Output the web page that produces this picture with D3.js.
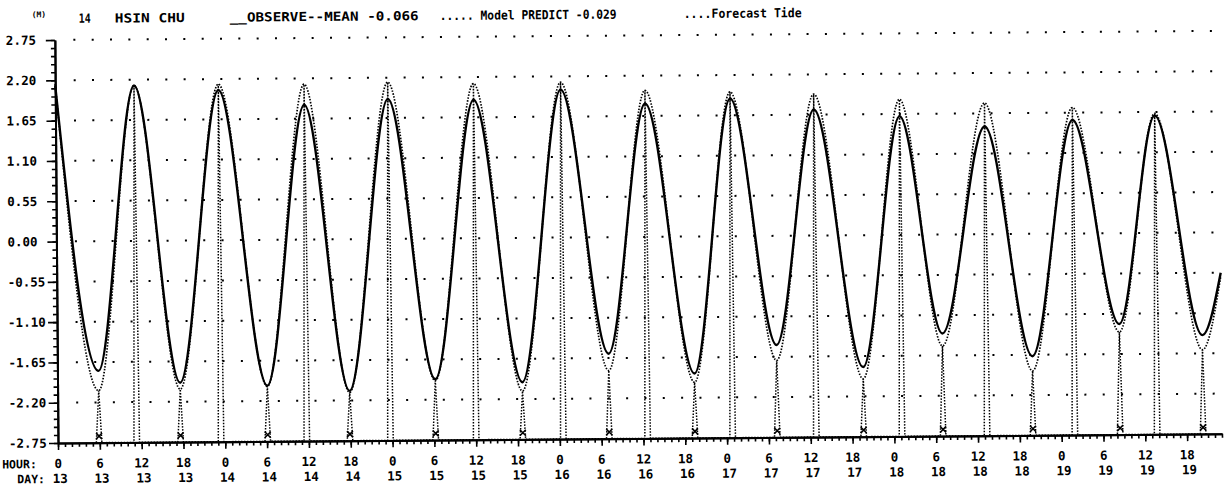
<!DOCTYPE html>
<html>
<head>
<meta charset="utf-8">
<script src="https://cdn.jsdelivr.net/npm/d3@7"></script>
<style>
body { margin: 0; background: #fff; }
svg { display: block; }
text { font-family: "DejaVu Sans Mono", monospace; font-weight: bold; fill: #000; }
</style>
</head>
<body>
<script>
// times (hours from day 13, 00h) of the start, every high / low water, and the end
var extremeHours = [0, 5.9, 11.3, 17.6, 23.4, 30.1, 35.7, 41.9, 47.7, 54.2, 60.0, 66.7, 72.5,
  79.1, 84.6, 91.4, 96.8, 103.2, 108.8, 115.6, 121.1, 127.0, 133.3, 139.9, 145.9, 152.4, 157.7, 164.3, 167];

// observed minus mean (solid)
var observed = [2.13, -1.77, 2.12, -1.94, 2.05, -1.99, 1.84, -2.07, 1.91, -1.92, 1.89, -1.97, 2.02,
  -1.59, 1.82, -1.87, 1.88, -1.49, 1.72, -1.80, 1.62, -1.35, 1.47, -1.67, 1.55, -1.24, 1.60, -1.40, -0.55];

// model predict (dotted)
var predicted = [2.15, -2.04, 2.12, -2.03, 2.13, -2.00, 2.12, -2.09, 2.14, -1.94, 2.11, -2.09, 2.12,
  -1.82, 2.00, -1.99, 1.97, -1.70, 1.93, -1.96, 1.85, -1.52, 1.79, -1.87, 1.72, -1.35, 1.63, -1.60, -0.60];

// forecast tide extremes (drawn as spikes from the bottom)
var forecastHours = extremeHours.slice(1, -1);
var forecastHeights = predicted.slice(1, -1);

var yTicks = [2.75, 2.20, 1.65, 1.10, 0.55, 0.00, -0.55, -1.10, -1.65, -2.20, -2.75];
var yLabels = ["2.75", "2.20", "1.65", "1.10", "0.55", "0.00", "-0.55", "-1.10", "-1.65", "-2.20", "-2.75"];

var tickHours = [0, 6, 12, 18, 24, 30, 36, 42, 48, 54, 60, 66, 72, 78, 84, 90, 96, 102, 108, 114,
  120, 126, 132, 138, 144, 150, 156, 162];
var hourLabels = ["0", "6", "12", "18", "0", "6", "12", "18", "0", "6", "12", "18", "0", "6",
  "12", "18", "0", "6", "12", "18", "0", "6", "12", "18", "0", "6", "12", "18"];
var dayLabels = ["13", "13", "13", "13", "14", "14", "14", "14", "15", "15", "15", "15", "16", "16",
  "16", "16", "17", "17", "17", "17", "18", "18", "18", "18", "19", "19", "19", "19"];

var width = 1226, height = 496;

var svg = d3.select("body").append("svg")
  .attr("width", width)
  .attr("height", height);

// the scanned plot sits slightly tilted
var g = svg.append("g").attr("transform", "rotate(-0.45,58,443)");

var x = d3.scaleLinear().domain([0, 167]).range([58, 1222]);
var y = d3.scaleLinear().domain([-2.75, 2.75]).range([443, 40]);

// dotted grid rows
var dotHours = d3.range(2.8, 166.5, 2.63);
yTicks.filter(function(v) { return v > -2.7; }).forEach(function(v) {
  g.append("g").selectAll("rect")
    .data(dotHours)
    .enter()
    .append("rect")
    .attr("x", function(d) { return x(d) - 1; })
    .attr("y", y(v) - 1)
    .attr("width", 2)
    .attr("height", 2)
    .attr("fill", "#000");
});

// y axis: minor then major ticks
var minorY = d3.range(0, 51).map(function(i) { return -2.75 + i * 0.11; });
g.append("g")
  .attr("class", "axis")
  .attr("transform", "translate(58,0)")
  .call(d3.axisLeft(y).tickValues(minorY).tickSize(4).tickSizeOuter(0).tickFormat(""));
g.append("g")
  .attr("class", "axis")
  .attr("transform", "translate(58,0)")
  .call(d3.axisLeft(y).tickValues(yTicks).tickSize(9).tickSizeOuter(0).tickFormat(""));

// x axis: hourly minor ticks, 6-hourly major ticks
g.append("g")
  .attr("class", "axis")
  .attr("transform", "translate(0,443)")
  .call(d3.axisBottom(x).tickValues(d3.range(0, 168)).tickSize(4).tickSizeOuter(0).tickFormat(""));
g.append("g")
  .attr("class", "axis")
  .attr("transform", "translate(0,443)")
  .call(d3.axisBottom(x).tickValues(tickHours).tickSize(7).tickSizeOuter(0).tickFormat(""));

g.selectAll(".axis path").attr("stroke", "#000").attr("stroke-width", 2);
g.selectAll(".axis line").attr("stroke", "#000").attr("stroke-width", 1.6);

// y labels
g.append("g").selectAll("text")
  .data(yTicks)
  .enter()
  .append("text")
  .attr("x", 9)
  .attr("y", function(d) { return y(d) + 4.5; })
  .attr("font-size", 12.5)
  .text(function(d, i) { return yLabels[i]; });

// x labels
g.append("g").selectAll("text")
  .data(tickHours)
  .enter()
  .append("text")
  .attr("x", function(d) { return x(d); })
  .attr("y", 468)
  .attr("text-anchor", "middle")
  .attr("font-size", 12.5)
  .text(function(d, i) { return hourLabels[i]; });
g.append("g").selectAll("text")
  .data(tickHours)
  .enter()
  .append("text")
  .attr("x", function(d) { return x(d) + 2; })
  .attr("y", 483)
  .attr("text-anchor", "middle")
  .attr("font-size", 12.5)
  .text(function(d, i) { return dayLabels[i]; });
g.append("text").attr("x", 2).attr("y", 468).attr("font-size", 11.5).text("HOUR:");
g.append("text").attr("x", 17).attr("y", 483).attr("font-size", 11.5).text("DAY:");

// header
g.append("text").attr("x", 35).attr("y", 17).attr("font-size", 8).text("(M)");
var header = [
  { t: "14", x: 82, w: 12 },
  { t: "HSIN CHU", x: 118, w: 70 },
  { t: "__OBSERVE--MEAN -0.066", x: 233, w: 189 },
  { t: "..... Model PREDICT -0.029", x: 443, w: 177 },
  { t: "....Forecast Tide", x: 687, w: 118 }
];
g.append("g").selectAll("text")
  .data(header)
  .enter()
  .append("text")
  .attr("x", function(d) { return d.x; })
  .attr("y", 23)
  .attr("font-size", 12.5)
  .attr("textLength", function(d) { return d.w; })
  .attr("lengthAdjust", "spacingAndGlyphs")
  .text(function(d) { return d.t; });

// forecast tide spikes
var spikePts = [];
forecastHours.forEach(function(h, i) {
  spikePts.push([h - 0.4, -2.75], [h, forecastHeights[i]], [h + 0.4, -2.75]);
});
g.append("path")
  .datum(spikePts)
  .attr("d", d3.line().x(function(d) { return x(d[0]); }).y(function(d) { return y(d[1]); }))
  .attr("fill", "none")
  .attr("stroke", "#000")
  .attr("stroke-width", 1.5)
  .attr("stroke-dasharray", "1.5 1.5");

// small marks at the foot of the low-water spikes
g.append("g").selectAll("path")
  .data(forecastHours.filter(function(h, i) { return forecastHeights[i] < 0; }))
  .enter()
  .append("path")
  .attr("d", function(h) {
    var cx = x(h), cy = y(-2.66);
    return "M" + (cx - 3) + "," + (cy - 3) + "L" + (cx + 3) + "," + (cy + 3) +
      "M" + (cx + 3) + "," + (cy - 3) + "L" + (cx - 3) + "," + (cy + 3);
  })
  .attr("stroke", "#000")
  .attr("stroke-width", 1.6);

var line = d3.line()
  .x(function(d) { return x(d[0]); })
  .y(function(d) { return y(d[1]); })
  .curve(d3.curveMonotoneX);

// model predict
g.append("path")
  .datum(d3.zip(extremeHours, predicted))
  .attr("d", line)
  .attr("fill", "none")
  .attr("stroke", "#000")
  .attr("stroke-width", 1.7)
  .attr("stroke-dasharray", "1.5 1.5");

// observed
g.append("path")
  .datum(d3.zip(extremeHours, observed))
  .attr("d", line)
  .attr("fill", "none")
  .attr("stroke", "#000")
  .attr("stroke-width", 2.4);
</script>
</body>
</html>
